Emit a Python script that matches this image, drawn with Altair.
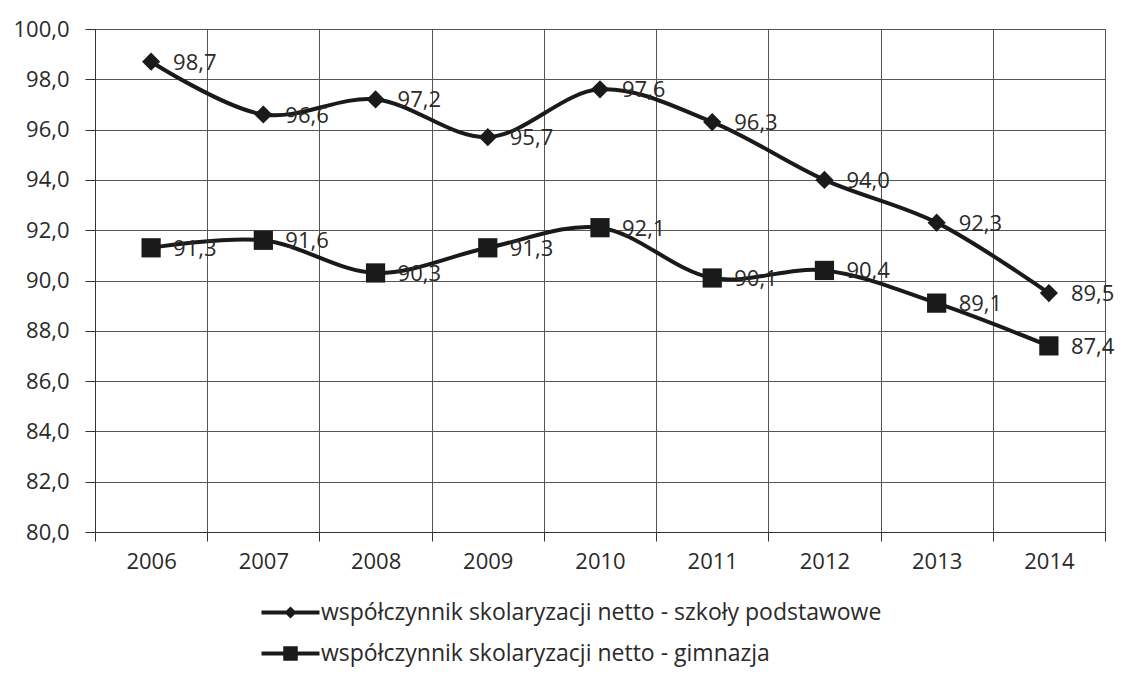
import altair as alt
import pandas as pd

years = [2006, 2007, 2008, 2009, 2010, 2011, 2012, 2013, 2014]
podstawowe = [98.7, 96.6, 97.2, 95.7, 97.6, 96.3, 94.0, 92.3, 89.5]
gimnazja = [91.3, 91.6, 90.3, 91.3, 92.1, 90.1, 90.4, 89.1, 87.4]
series_names = [
    "współczynnik skolaryzacji netto - szkoły podstawowe",
    "współczynnik skolaryzacji netto - gimnazja",
]
y_ticks = [80, 82, 84, 86, 88, 90, 92, 94, 96, 98, 100]
grid_x = [2005.5, 2006.5, 2007.5, 2008.5, 2009.5, 2010.5, 2011.5, 2012.5, 2013.5, 2014.5]

rows = []
for s, vals in zip(series_names, [podstawowe, gimnazja]):
    for yr, v in zip(years, vals):
        rows.append({"rok": yr, "wartosc": v, "seria": s,
                     "etykieta": f"{v:.1f}".replace(".", ",")})
df = pd.DataFrame(rows)

FONT = "Open Sans"
INK = "#1a1a1a"
TXT = "#2a2a2a"

xscale = alt.Scale(domain=[2005.5, 2014.5], nice=False, zero=False)
yscale = alt.Scale(domain=[80, 100], nice=False, zero=False)

yaxis = alt.Axis(values=y_ticks, labelExpr="replace(format(datum.value, '.1f'), '.', ',')",
                 grid=True, gridColor="#555", gridWidth=1, domainColor="#333",
                 tickColor="#333", tickSize=10, labelFontSize=22, labelColor=TXT,
                 labelFont=FONT, title=None, labelPadding=16)

base = alt.Chart(df)

lines = base.mark_line(color=INK, strokeWidth=4, interpolate="catmull-rom").encode(
    x=alt.X("rok:Q", scale=xscale,
            axis=alt.Axis(values=grid_x, labels=False, grid=True, gridColor="#555",
                          gridWidth=1, tickSize=9, tickColor="#333", domainColor="#333",
                          title=None, orient="bottom")),
    y=alt.Y("wartosc:Q", scale=yscale, axis=yaxis),
    detail="seria:N",
)

pts_diamond = base.transform_filter(alt.datum.seria == series_names[0]).mark_point(
    filled=True, color=INK, opacity=1, shape="diamond", size=330).encode(
    x=alt.X("rok:Q", scale=xscale,
            axis=alt.Axis(values=years, format="d", grid=False, ticks=False, domain=False,
                          labelFontSize=22, labelColor=TXT, labelFont=FONT,
                          labelPadding=19, title=None, orient="bottom")),
    y=alt.Y("wartosc:Q", scale=yscale),
)

pts_square = base.transform_filter(alt.datum.seria == series_names[1]).mark_point(
    filled=True, color=INK, opacity=1, shape="square", size=370).encode(
    x=alt.X("rok:Q", scale=xscale, axis=None),
    y=alt.Y("wartosc:Q", scale=yscale),
)

labels = base.mark_text(align="left", baseline="middle", dx=22, dy=1, fontSize=22,
                        font=FONT, color=TXT).encode(
    x=alt.X("rok:Q", scale=xscale, axis=None),
    y=alt.Y("wartosc:Q", scale=yscale),
    text="etykieta:N",
)

legend_paths = [
    "M-2,-0.13H2V0.13H-2ZM0,-0.42L0.42,0L0,0.42L-0.42,0Z",
    "M-2,-0.13H2V0.13H-2ZM-0.5,-0.5H0.5V0.5H-0.5Z",
]
legend_layer = base.mark_point(filled=True, opacity=0, color=INK).encode(
    x=alt.X("rok:Q", scale=xscale, axis=None),
    y=alt.Y("wartosc:Q", scale=yscale),
    shape=alt.Shape("seria:N", scale=alt.Scale(domain=series_names, range=legend_paths),
                    legend=alt.Legend(orient="none", legendX=181, legendY=569, title=None,
                                      direction="vertical", symbolSize=841,
                                      symbolFillColor=INK, symbolStrokeColor=INK,
                                      symbolStrokeWidth=0, symbolOpacity=1,
                                      labelFontSize=23, labelFont=FONT, labelColor=TXT,
                                      labelOffset=16, rowPadding=14, labelLimit=900)),
)

chart = alt.layer(lines, pts_diamond, pts_square, labels, legend_layer).resolve_axis(
    x="independent"
).properties(
    width=1010, height=503,
    autosize=alt.AutoSizeParams(type="none"),
    padding={"left": 87, "top": 21, "right": 10, "bottom": 145},
).configure_view(stroke="#444", strokeWidth=1)

chart.save("out.html", embed_options={"renderer": "svg", "actions": False})
